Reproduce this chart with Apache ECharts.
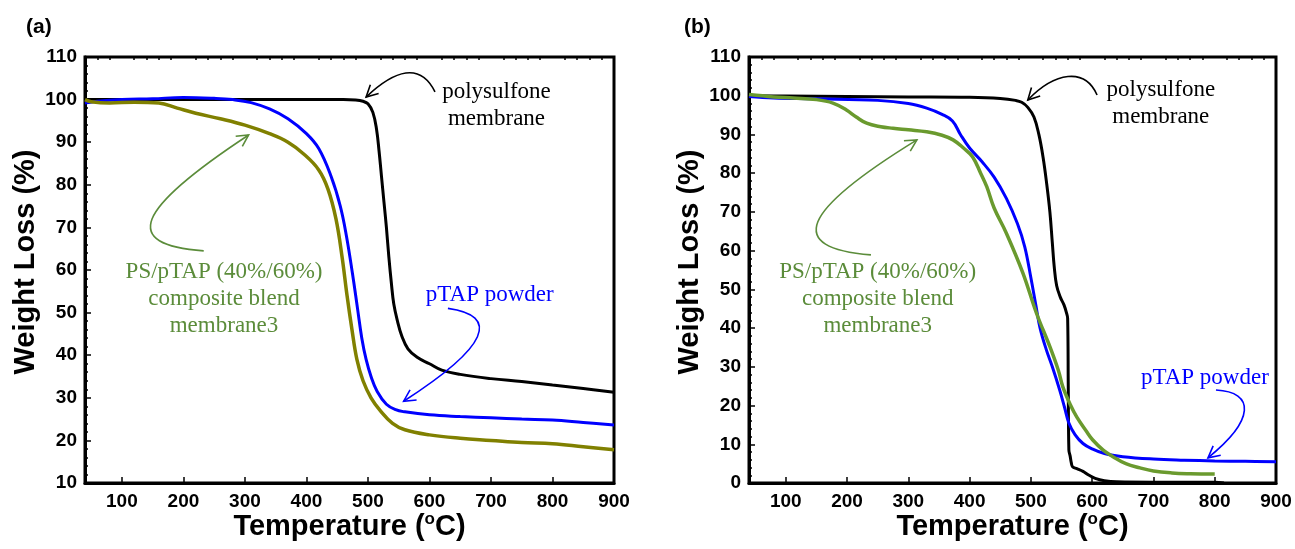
<!DOCTYPE html>
<html>
<head>
<meta charset="utf-8">
<script src="https://cdn.jsdelivr.net/npm/echarts@6/dist/echarts.min.js"></script>
<style>
  html, body { margin: 0; padding: 0; background: #fff; }
  #chart { width: 1295px; height: 549px; }
</style>
</head>
<body>
<div id="chart"></div>
<script>
// ---- axis ticks ----
const xMajorTicks = [100, 200, 300, 400, 500, 600, 700, 800, 900];
const xMinorTicks = [60, 80, 120, 140, 160, 180, 220, 240, 260, 280, 320, 340, 360, 380,
  420, 440, 460, 480, 520, 540, 560, 580, 620, 640, 660, 680, 720, 740, 760, 780,
  820, 840, 860, 880];

// ---- panel (a): TGA curves, [temperature °C, weight %] ----
const psMembraneA = [[40,100],[100,100],[200,100],[300,100],[400,100],[460,100],[480,99.9],
  [492,99.6],[500,99],[508,97],[514,93],[518,88],[522,82],[526,76],[530,70],[534,63],
  [538,57],[542,52],[548,48],[555,44.5],[565,41.5],[580,39.5],[600,38],[620,36.5],
  [650,35.5],[700,34.5],[750,33.8],[800,33],[850,32.2],[900,31.3]];
const ptapPowderA = [[40,99.2],[60,99.6],[100,100],[150,100.2],[200,100.5],[250,100.3],
  [280,100],[310,99.3],[340,97.8],[370,95.5],[400,92],[420,88.5],[440,82],[455,75],
  [465,68],[475,59],[483,51],[490,44],[497,39],[505,35],[515,31.5],[530,28.5],[545,27.2],
  [560,26.7],[600,26],[650,25.6],[700,25.3],[750,25],[800,24.8],[850,24.2],[900,23.6]];
const blendA = [[40,100],[50,99.5],[80,99.2],[120,99.4],[160,99.2],[190,98],[220,96.8],
  [260,95.5],[300,94],[340,92],[370,90],[395,87.3],[420,83.5],[435,79],[448,72],[458,63],
  [466,54],[474,46],[482,39],[492,34],[505,30],[520,27],[540,24],[560,22.5],[600,21.3],
  [650,20.5],[700,20],[750,19.5],[800,19.2],[850,18.5],[900,17.8]];

// ---- panel (b) ----
const psMembraneB = [[40,100],[100,99.9],[200,99.8],[300,99.7],[400,99.6],[450,99.3],
  [475,98.8],[485,98.3],[495,97],[505,94.5],[513,90],[520,84],[526,77],[531,70],[535,62],
  [538,56],[542,51],[548,48],[554,46],[558,44],[560,42.5],[561,25],[562,8.5],[564,7],
  [566,5.2],[568,4.2],[575,3.7],[585,3],[595,2],[605,1.2],[620,0.6],[640,0.3],[700,0.2],
  [800,0.2],[815,0]];
const ptapPowderB = [[40,99.8],[80,99.4],[150,99.2],[250,98.8],[300,98],[330,96.8],
  [355,95.2],[372,93.5],[385,90],[400,86.5],[420,83],[440,79],[460,73.5],[478,67],[490,61],
  [500,53],[508,46],[515,40],[525,34.5],[535,30],[547,24],[555,19.5],[562,15.5],[572,12.5],
  [585,10.2],[600,8.8],[620,7.6],[650,6.8],[700,6.2],[750,5.9],[800,5.7],[850,5.6],[900,5.5]];
const blendB = [[40,100.3],[80,99.7],[112,99.4],[150,99],[177,98.1],[199,96.3],[215,94.5],
  [232,92.9],[255,92],[275,91.6],[300,91.2],[330,90.7],[355,89.8],[373,88.6],[390,86.5],
  [405,84.2],[418,80],[428,76.5],[440,71],[460,64.5],[487,54.2],[509,43.9],[531,35.2],
  [545,29],[552,24.9],[565,20],[575,17],[590,13.5],[601,11.1],[618,8.5],[634,6.8],[655,5],
  [678,3.9],[700,3.1],[730,2.6],[760,2.4],[800,2.3]];

// ---- labels ----
const labelPS = 'polysulfone\nmembrane';
const labelBlend = 'PS/pTAP (40%/60%)\ncomposite blend\nmembrane3';
const labelPowder = 'pTAP powder';

const C_BLACK = '#000000';
const C_BLUE = '#0000ff';
const C_OLIVE = '#808000';
const C_GREEN = '#6a9a2e';
const C_NOTE_GREEN = '#5b8c3a';
const SANS = "'Liberation Sans', Arial, sans-serif";
const SERIF = "'Liberation Serif', 'Times New Roman', serif";

const grids = [
  { left: 85, top: 57, width: 529, height: 426 },
  { left: 749, top: 57, width: 527, height: 426 }
];

function xAxes(gridIndex) {
  return [
    {
      type: 'value', gridIndex, min: 40, max: 900,
      name: '{t|Temperature (}{s|o}{t|C)}', nameLocation: 'middle', nameGap: 28,
      nameMoveOverlap: false,
      nameTextStyle: {
        rich: {
          t: { fontFamily: SANS, fontWeight: 'bold', fontSize: 29, color: '#000', lineHeight: 32 },
          s: { fontFamily: SANS, fontWeight: 'bold', fontSize: 17, color: '#000', verticalAlign: 'top', lineHeight: 32 }
        }
      },
      axisLine: { show: true, lineStyle: { color: '#000', width: 3 } },
      axisTick: { show: true, inside: true, length: 6, customValues: xMajorTicks, lineStyle: { color: '#000', width: 1.5 } },
      axisLabel: { customValues: xMajorTicks, color: '#000', fontFamily: SANS, fontWeight: 'bold', fontSize: 19, margin: 9 },
      splitLine: { show: false }
    },
    {
      type: 'value', gridIndex, min: 40, max: 900,
      axisLine: { show: false },
      axisTick: { show: true, inside: true, length: 3, customValues: xMinorTicks, lineStyle: { color: '#000', width: 1.5 } },
      axisLabel: { show: false },
      splitLine: { show: false }
    }
  ];
}

function yAxis(gridIndex, min) {
  return {
    type: 'value', gridIndex, min, max: 110, interval: 10,
    name: 'Weight Loss (%)', nameLocation: 'middle', nameGap: 45,
    nameTextStyle: { fontFamily: SANS, fontWeight: 'bold', fontSize: 29, color: '#000', padding: [0, 0, 0, 16] },
    axisLine: { show: true, lineStyle: { color: '#000', width: 3 } },
    axisTick: { show: true, inside: true, length: 6, lineStyle: { color: '#000', width: 1.5 } },
    minorTick: { show: true, splitNumber: 5, length: 3, lineStyle: { color: '#000', width: 1.5 } },
    axisLabel: { color: '#000', fontFamily: SANS, fontWeight: 'bold', fontSize: 19, margin: 8 },
    splitLine: { show: false }
  };
}

function curve(name, data, color, xi, yi, width) {
  return {
    type: 'line', name, data, xAxisIndex: xi, yAxisIndex: yi,
    showSymbol: false, smooth: 0.4,
    lineStyle: { color, width: width || 3 }, itemStyle: { color },
    silent: true, animation: false, z: 3
  };
}

const chart = echarts.init(document.getElementById('chart'), null, { renderer: 'canvas' });

chart.setOption({
  backgroundColor: '#fff',
  animation: false,
  title: [
    { text: '(a)', left: 21, top: 12, textStyle: { fontFamily: SANS, fontWeight: 'bold', fontSize: 21, color: '#000' } },
    { text: '(b)', left: 679, top: 12, textStyle: { fontFamily: SANS, fontWeight: 'bold', fontSize: 21, color: '#000' } }
  ],
  grid: grids.map(g => Object.assign({
    show: true, borderColor: '#000', borderWidth: 3, backgroundColor: 'transparent',
    containLabel: false, outerBoundsMode: 'none'
  }, g)),
  xAxis: [...xAxes(0), ...xAxes(1)],
  yAxis: [yAxis(0, 10), yAxis(1, 0)],
  series: [
    curve('polysulfone membrane', psMembraneA, C_BLACK, 0, 0, 3),
    curve('pTAP powder', ptapPowderA, C_BLUE, 0, 0, 3),
    curve('PS/pTAP composite blend membrane3', blendA, C_OLIVE, 0, 0, 3.5),
    curve('polysulfone membrane', psMembraneB, C_BLACK, 2, 1, 3),
    curve('pTAP powder', ptapPowderB, C_BLUE, 2, 1, 3),
    curve('PS/pTAP composite blend membrane3', blendB, C_GREEN, 2, 1, 3.5)
  ]
});

// ---- call-out labels and curved arrows, placed in data coordinates ----
const notes = [
  { grid: 0, text: labelPS, at: [709, 98.6], color: C_BLACK, lh: 27 },
  { grid: 0, text: labelBlend, at: [266, 53.2], color: C_NOTE_GREEN, lh: 27 },
  { grid: 0, text: labelPowder, at: [698, 54.1], color: C_BLUE, lh: 27 },
  { grid: 1, text: labelPS, at: [712, 97.9], color: C_BLACK, lh: 27 },
  { grid: 1, text: labelBlend, at: [250, 47.6], color: C_NOTE_GREEN, lh: 27 },
  { grid: 1, text: labelPowder, at: [784, 27.2], color: C_BLUE, lh: 27 }
];
const arrows = [
  { grid: 0, color: C_BLACK, pts: [[609, 101.8], [585, 108.8], [544, 107], [497, 100.6]] },
  { grid: 0, color: C_NOTE_GREEN, pts: [[233, 64.5], [97, 65.9], [121, 74.1], [306, 91.7]] },
  { grid: 0, color: C_BLUE, pts: [[630, 51.0], [714, 49.3], [698, 42.2], [558, 29.2]] },
  { grid: 1, color: C_BLACK, pts: [[608, 100.2], [588, 107.4], [539, 106.1], [495, 98.9]] },
  { grid: 1, color: C_NOTE_GREEN, pts: [[239, 58.9], [99, 60.7], [123, 70.0], [314, 88.6]] },
  { grid: 1, color: C_BLUE, pts: [[802, 24.0], [866, 23.5], [866, 16.3], [789, 6.5]] }
];

const graphics = [];
notes.forEach(n => {
  const p = chart.convertToPixel({ gridIndex: n.grid }, n.at);
  graphics.push({
    type: 'text', silent: true, z: 10,
    style: {
      text: n.text, x: p[0], y: p[1], align: 'center', verticalAlign: 'middle',
      fontFamily: SERIF, fontSize: 23, lineHeight: n.lh, fill: n.color
    }
  });
});
arrows.forEach(a => {
  const q = a.pts.map(pt => chart.convertToPixel({ gridIndex: a.grid }, pt));
  graphics.push({
    type: 'bezierCurve', silent: true, z: 10,
    shape: { x1: q[0][0], y1: q[0][1], cpx1: q[1][0], cpy1: q[1][1], cpx2: q[2][0], cpy2: q[2][1], x2: q[3][0], y2: q[3][1] },
    style: { stroke: a.color, lineWidth: 1.6, fill: null }
  });
  // open arrowhead along the end tangent
  const dx = q[3][0] - q[2][0], dy = q[3][1] - q[2][1];
  const ang = Math.atan2(dy, dx);
  const len = 13, spread = Math.PI / 6.5;
  const tip = q[3];
  const w1 = [tip[0] - len * Math.cos(ang - spread), tip[1] - len * Math.sin(ang - spread)];
  const w2 = [tip[0] - len * Math.cos(ang + spread), tip[1] - len * Math.sin(ang + spread)];
  graphics.push({
    type: 'polyline', silent: true, z: 10,
    shape: { points: [w1, tip, w2] },
    style: { stroke: a.color, lineWidth: 1.6, fill: null }
  });
});
chart.setOption({ graphic: graphics });
</script>
</body>
</html>
